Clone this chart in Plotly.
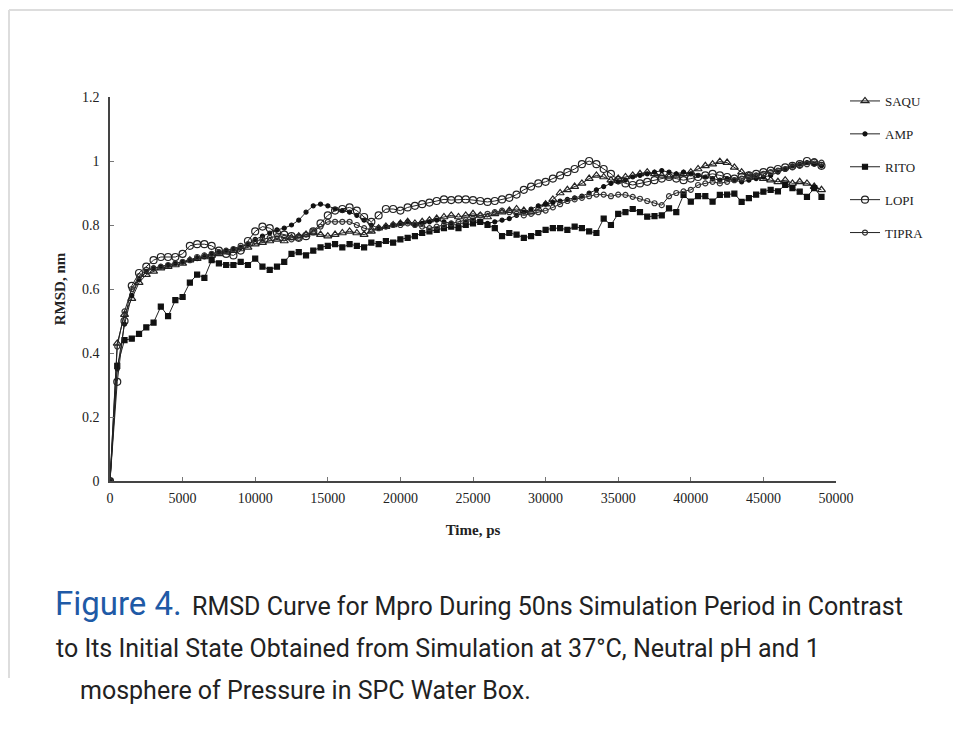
import plotly.graph_objects as go

time_ps = list(range(0, 49001, 500))

saqu = [0, 0.43, 0.52, 0.57, 0.62, 0.645, 0.655, 0.665, 0.67, 0.675,
        0.68, 0.69, 0.695, 0.70, 0.705, 0.71, 0.715, 0.72, 0.725, 0.73,
        0.74, 0.745, 0.75, 0.755, 0.75, 0.76, 0.765, 0.77, 0.775, 0.77,
        0.765, 0.77, 0.775, 0.78, 0.775, 0.77, 0.78, 0.79, 0.795, 0.80,
        0.805, 0.81, 0.805, 0.81, 0.815, 0.82, 0.825, 0.83, 0.825, 0.83,
        0.835, 0.83, 0.825, 0.835, 0.84, 0.845, 0.85, 0.845, 0.84, 0.85,
        0.865, 0.88, 0.90, 0.91, 0.92, 0.93, 0.945, 0.955, 0.95, 0.94,
        0.945, 0.95, 0.955, 0.96, 0.965, 0.96, 0.955, 0.95, 0.955, 0.96,
        0.965, 0.975, 0.985, 0.99, 0.998, 0.995, 0.98, 0.965, 0.955, 0.95,
        0.945, 0.94, 0.935, 0.94, 0.93, 0.935, 0.93, 0.92, 0.91]

amp = [0, 0.35, 0.49, 0.58, 0.63, 0.655, 0.665, 0.67, 0.675, 0.68,
       0.685, 0.69, 0.695, 0.70, 0.71, 0.715, 0.72, 0.725, 0.73, 0.74,
       0.755, 0.765, 0.775, 0.785, 0.79, 0.80, 0.815, 0.84, 0.86, 0.865,
       0.86, 0.85, 0.845, 0.84, 0.83, 0.815, 0.80, 0.79, 0.795, 0.80,
       0.805, 0.81, 0.80, 0.805, 0.81, 0.815, 0.81, 0.805, 0.80, 0.81,
       0.815, 0.81, 0.805, 0.81, 0.815, 0.82, 0.83, 0.84, 0.85, 0.86,
       0.865, 0.87, 0.875, 0.88, 0.885, 0.89, 0.90, 0.91, 0.92, 0.93,
       0.935, 0.94, 0.95, 0.955, 0.96, 0.965, 0.97, 0.965, 0.96, 0.965,
       0.96, 0.955, 0.95, 0.945, 0.94, 0.945, 0.94, 0.935, 0.94, 0.945,
       0.95, 0.955, 0.965, 0.975, 0.985, 0.99, 0.995, 0.99, 0.985]

rito = [0, 0.36, 0.44, 0.445, 0.46, 0.48, 0.495, 0.545, 0.515, 0.565,
        0.575, 0.62, 0.645, 0.635, 0.69, 0.68, 0.675, 0.675, 0.685, 0.675,
        0.695, 0.67, 0.66, 0.67, 0.685, 0.71, 0.715, 0.705, 0.72, 0.73,
        0.735, 0.74, 0.73, 0.74, 0.735, 0.73, 0.745, 0.74, 0.75, 0.745,
        0.755, 0.76, 0.765, 0.775, 0.78, 0.785, 0.79, 0.795, 0.79, 0.80,
        0.805, 0.81, 0.80, 0.79, 0.765, 0.775, 0.77, 0.76, 0.765, 0.775,
        0.785, 0.79, 0.79, 0.785, 0.795, 0.79, 0.78, 0.775, 0.82, 0.80,
        0.835, 0.84, 0.85, 0.84, 0.826, 0.828, 0.83, 0.852, 0.84, 0.894,
        0.873, 0.89, 0.89, 0.873, 0.894, 0.895, 0.898, 0.872, 0.884, 0.895,
        0.904, 0.91, 0.905, 0.925, 0.915, 0.904, 0.888, 0.915, 0.888]

lopi = [0, 0.31, 0.50, 0.61, 0.65, 0.67, 0.69, 0.70, 0.70, 0.70,
        0.71, 0.735, 0.74, 0.74, 0.735, 0.72, 0.71, 0.705, 0.72, 0.75,
        0.78, 0.795, 0.79, 0.775, 0.77, 0.765, 0.76, 0.765, 0.78, 0.805,
        0.83, 0.845, 0.85, 0.855, 0.845, 0.825, 0.81, 0.83, 0.85, 0.85,
        0.845, 0.855, 0.86, 0.865, 0.87, 0.875, 0.88, 0.878, 0.88, 0.88,
        0.878, 0.875, 0.872, 0.875, 0.88, 0.885, 0.895, 0.91, 0.92, 0.93,
        0.935, 0.945, 0.955, 0.965, 0.975, 0.99, 1.0, 0.99, 0.975, 0.96,
        0.94, 0.93, 0.925, 0.93, 0.935, 0.94, 0.945, 0.95, 0.945, 0.94,
        0.945, 0.95, 0.955, 0.96, 0.955, 0.95, 0.945, 0.95, 0.955, 0.96,
        0.965, 0.97, 0.975, 0.98, 0.985, 0.99, 1.0, 0.995, 0.985]

tipra = [0, 0.42, 0.53, 0.60, 0.64, 0.66, 0.665, 0.67, 0.675, 0.68,
         0.685, 0.69, 0.70, 0.705, 0.71, 0.715, 0.72, 0.725, 0.735, 0.74,
         0.75, 0.755, 0.76, 0.765, 0.76, 0.755, 0.76, 0.77, 0.78, 0.795,
         0.81, 0.81, 0.81, 0.81, 0.80, 0.79, 0.785, 0.79, 0.795, 0.80,
         0.80, 0.805, 0.80, 0.795, 0.79, 0.795, 0.80, 0.805, 0.81, 0.815,
         0.82, 0.83, 0.835, 0.84, 0.845, 0.84, 0.835, 0.83, 0.835, 0.84,
         0.845, 0.855, 0.865, 0.875, 0.88, 0.885, 0.89, 0.895, 0.895, 0.89,
         0.895, 0.894, 0.888, 0.882, 0.875, 0.868, 0.862, 0.89, 0.90, 0.905,
         0.91, 0.925, 0.93, 0.935, 0.93, 0.935, 0.94, 0.945, 0.95, 0.955,
         0.96, 0.965, 0.97, 0.975, 0.98, 0.985, 0.99, 1.0, 0.995]

series_names = ["SAQU", "AMP", "RITO", "LOPI", "TIPRA"]
series_values = [saqu, amp, rito, lopi, tipra]
x_ticks = [0, 5000, 10000, 15000, 20000, 25000, 30000, 35000, 40000, 45000, 50000]
y_ticks = [0, 0.2, 0.4, 0.6, 0.8, 1, 1.2]

styles = {
    "SAQU": dict(symbol="triangle-up-open", size=7, color="#222"),
    "AMP": dict(symbol="circle", size=4, color="#111"),
    "RITO": dict(symbol="square", size=5, color="#111"),
    "LOPI": dict(symbol="circle-open", size=7, color="#222"),
    "TIPRA": dict(symbol="circle-open", size=5, color="#333"),
}

fig = go.Figure()
for name, vals in zip(series_names, series_values):
    st = styles[name]
    fig.add_trace(go.Scatter(
        x=time_ps, y=vals, name=name, mode="lines+markers",
        legendgroup=name,
        line=dict(color="#222", width=1),
        marker=dict(symbol=st["symbol"], size=st["size"], color=st["color"],
                    line=dict(color=st["color"], width=1.2)),
    ))

# target plot area in window pixels: x 110..836, y 97..481 (page body has 8px margin)
L, R, T, B = 110, 836, 97, 481
OFF = 8
W, H = 961 - OFF, 734 - OFF
def px(x):
    return (x - L) / (R - L)
def py(y):
    return (B - y) / (B - T)

serif = "Liberation Serif, DejaVu Serif, serif"
sans = "Roboto, Noto Sans, sans-serif"

fig.update_layout(
    width=W, height=H,
    margin=dict(l=L - OFF, r=W - (R - OFF), t=T - OFF, b=H - (B - OFF), pad=0),
    paper_bgcolor="white", plot_bgcolor="white",
    showlegend=True,
    legend=dict(x=px(845), y=py(86), xanchor="left", yanchor="top",
                font=dict(family=serif, size=13, color="#222"),
                tracegroupgap=13, itemwidth=30, bgcolor="rgba(0,0,0,0)"),
    xaxis=dict(range=[0, 50000], tickvals=x_ticks, tickformat="d",
               showgrid=False, zeroline=False, showline=True,
               linecolor="#444", linewidth=1.6, ticks="inside", ticklen=4,
               tickcolor="#777", ticklabelstandoff=3,
               tickfont=dict(family=serif, size=14, color="#222"),
               title=dict(text="<b>Time, ps</b>", standoff=20,
                          font=dict(family=serif, size=15, color="#222"))),
    yaxis=dict(range=[0, 1.2], tickvals=y_ticks,
               showgrid=False, zeroline=False, showline=True,
               linecolor="#444", linewidth=1.6, ticks="inside", ticklen=4,
               tickcolor="#777", ticklabelstandoff=6,
               tickfont=dict(family=serif, size=14, color="#222"),
               title=dict(text="<b>RMSD, nm</b>", standoff=13,
                          font=dict(family=serif, size=15, color="#222"))),
)

# page frame lines
fig.add_shape(type="line", xref="paper", yref="paper",
              x0=px(9), x1=px(961), y0=py(10), y1=py(10),
              line=dict(color="#dddddd", width=2))
fig.add_shape(type="line", xref="paper", yref="paper",
              x0=px(9), x1=px(9), y0=py(10), y1=py(678),
              line=dict(color="#dddddd", width=2))

# caption
fig.add_annotation(xref="paper", yref="paper", x=px(53), y=py(603),
                   xanchor="left", yanchor="middle", showarrow=False,
                   text="Figure 4.", font=dict(family=sans, size=33, color="#1f5aa6"))
fig.add_annotation(xref="paper", yref="paper", x=px(190), y=py(606),
                   xanchor="left", yanchor="middle", showarrow=False,
                   text="RMSD Curve for Mpro During 50ns Simulation Period in Contrast",
                   font=dict(family=sans, size=25, color="#222"))
fig.add_annotation(xref="paper", yref="paper", x=px(54), y=py(648),
                   xanchor="left", yanchor="middle", showarrow=False,
                   text="to Its Initial State Obtained from Simulation at 37°C, Neutral pH and 1",
                   font=dict(family=sans, size=25, color="#222"))
fig.add_annotation(xref="paper", yref="paper", x=px(78), y=py(690),
                   xanchor="left", yanchor="middle", showarrow=False,
                   text="mosphere of Pressure in SPC Water Box.",
                   font=dict(family=sans, size=25, color="#222"))

fig.write_html("out.html")
